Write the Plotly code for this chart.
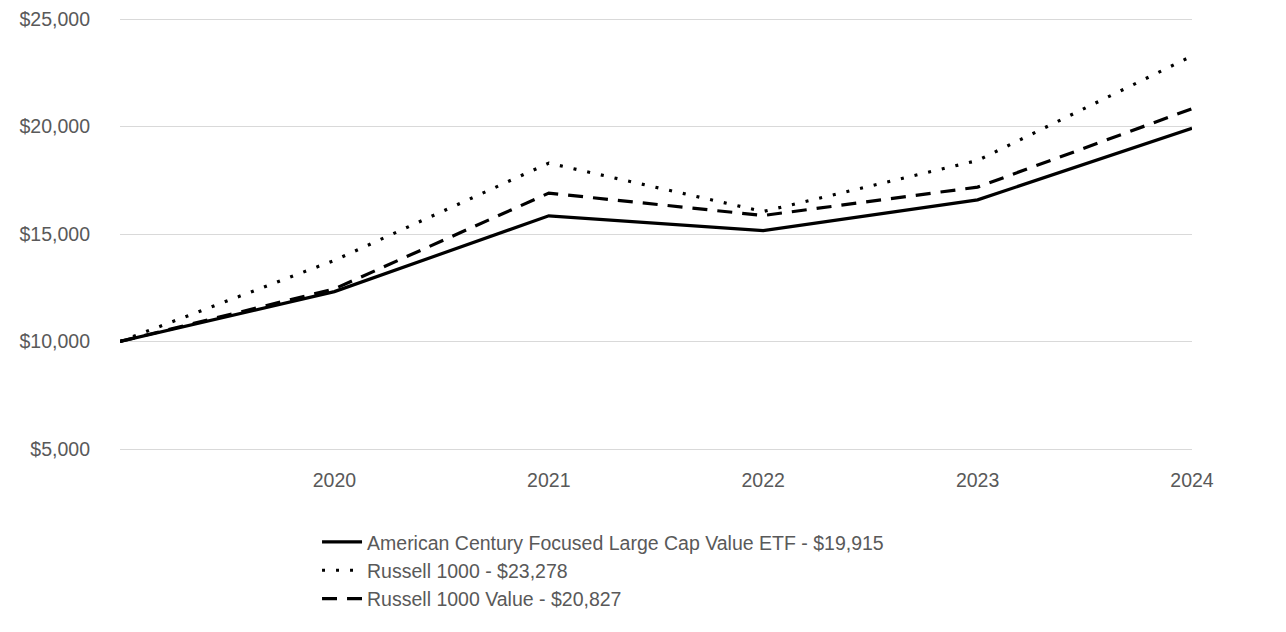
import plotly.graph_objects as go

years = [2019, 2020, 2021, 2022, 2023, 2024]
tick_years = [2020, 2021, 2022, 2023, 2024]
fund = [10000, 12321, 15845, 15161, 16589, 19915]
r1000 = [10000, 13774, 18297, 16045, 18420, 23278]
r1000v = [10000, 12447, 16901, 15860, 17181, 20827]
names = [
    "American Century Focused Large Cap Value ETF - $19,915",
    "Russell 1000 - $23,278",
    "Russell 1000 Value - $20,827",
]
y_ticks = [5000, 10000, 15000, 20000, 25000]
y_tick_text = ["$5,000", "$10,000", "$15,000", "$20,000", "$25,000"]

fig = go.Figure()
fig.add_trace(go.Scatter(x=years, y=fund, mode="lines", name=names[0],
                         line=dict(color="#000000", width=3.2)))
fig.add_trace(go.Scatter(x=years, y=r1000, mode="lines", name=names[1],
                         line=dict(color="#000000", width=3.2, dash="3px,11px")))
fig.add_trace(go.Scatter(x=years, y=r1000v, mode="lines", name=names[2],
                         line=dict(color="#000000", width=3.2, dash="15px,10px")))

font_family = "Liberation Sans, Arial, sans-serif"
fs = 19.5
fig.update_layout(
    width=1286, height=632,
    paper_bgcolor="white", plot_bgcolor="white",
    margin=dict(l=112, r=102, t=8, b=188, autoexpand=False),
    font=dict(family=font_family, size=fs, color="#595959"),
    showlegend=True,
    legend=dict(
        orientation="v", x=0.1838, xanchor="left", y=-0.1622, yanchor="top",
        font=dict(family=font_family, size=fs, color="#595959"),
        bgcolor="rgba(0,0,0,0)", itemwidth=40,
    ),
    xaxis=dict(
        range=[2019, 2024], tickvals=tick_years, ticktext=[str(y) for y in tick_years],
        showgrid=False, zeroline=False, showline=False, ticks="",
        ticklabelstandoff=14, ticklabeloverflow="allow",
        tickfont=dict(size=fs, color="#595959"),
    ),
    yaxis=dict(
        range=[4860.5, 25139.5], tickvals=y_ticks, ticktext=y_tick_text,
        showgrid=True, gridcolor="#d9d9d9", gridwidth=1, zeroline=False,
        showline=False, ticks="", ticklabelstandoff=29, ticklabeloverflow="allow",
        tickfont=dict(size=fs, color="#595959"),
    ),
)

fig.write_html("out.html")
